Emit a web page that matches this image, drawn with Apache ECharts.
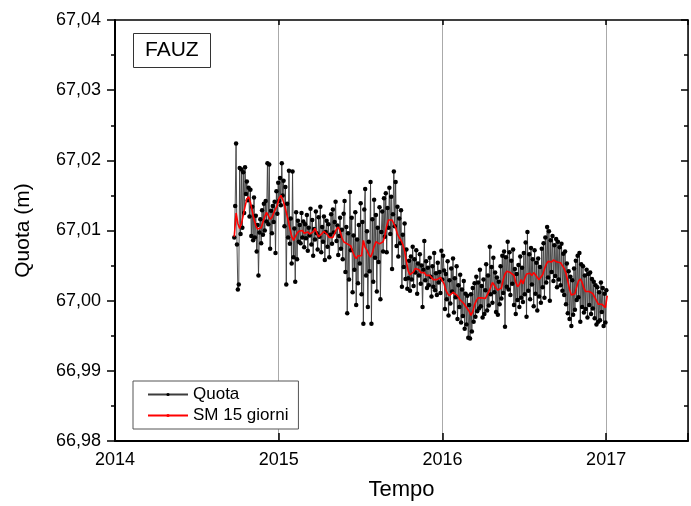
<!DOCTYPE html>
<html><head><meta charset="utf-8">
<script src="https://cdn.jsdelivr.net/npm/echarts@6/dist/echarts.min.js"></script>
<style>html,body{margin:0;padding:0;background:#fff;overflow:hidden}#c{width:691px;height:506px}</style>
</head><body><div id="c"></div>
<script>
// first sample date (decimal year, ~23 Sep 2014) and sampling steps (days)
const startYear = 2014.7286;
const quotaStepDays = 2;
const smStepDays = 4;
const xTickYears = [2014, 2015, 2016, 2017];
const yTicks = [66.98, 66.99, 67.00, 67.01, 67.02, 67.03, 67.04];

// Quota (m), one reading every 2 days
const quota = [
67.0090,67.0135,67.0224,67.0080,67.0016,67.0023,67.0189,67.0095,67.0187,67.0104,
67.0183,67.0125,67.0190,67.0152,67.0170,67.0143,67.0161,67.0120,67.0158,67.0092,
67.0134,67.0086,67.0147,67.0090,67.0121,67.0070,67.0108,67.0036,67.0097,67.0116,
67.0082,67.0129,67.0094,67.0138,67.0100,67.0142,67.0113,67.0196,67.0109,67.0194,
67.0074,67.0128,67.0096,67.0135,67.0112,67.0141,67.0068,67.0156,67.0124,67.0168,
67.0142,67.0175,67.0136,67.0196,67.0150,67.0171,67.0106,67.0162,67.0023,67.0138,
67.0090,67.0185,67.0081,67.0117,67.0053,67.0184,67.0062,67.0103,67.0027,67.0126,
67.0059,67.0114,67.0084,
67.0108,67.0082,67.0125,67.0090,67.0113,67.0076,67.0109,67.0089,67.0122,67.0071,
67.0104,67.0093,67.0131,67.0080,67.0115,67.0064,67.0102,67.0087,67.0127,67.0096,
67.0073,67.0119,67.0091,67.0134,67.0069,67.0105,67.0084,67.0120,67.0058,67.0098,
67.0114,67.0077,67.0109,67.0062,67.0094,67.0123,67.0081,67.0130,67.0097,67.0112,
67.0141,67.0085,67.0107,67.0065,67.0092,67.0118,67.0074,67.0101,67.0059,67.0124,
67.0142,67.0041,67.0105,66.9982,67.0096,67.0030,67.0155,67.0072,67.0118,67.0012,
67.0093,67.0044,67.0126,66.9994,67.0087,67.0025,67.0108,67.0053,67.0139,67.0009,
67.0112,66.9967,67.0130,67.0159,67.0036,67.0099,66.9991,67.0084,67.0042,67.0169,
66.9967,67.0116,67.0027,67.0144,67.0061,67.0122,67.0013,67.0104,67.0055,67.0133,
67.0002,67.0098,67.0127,67.0070,67.0146,67.0091,67.0153,67.0069,67.0132,67.0104,
67.0161,67.0095,67.0148,67.0045,67.0123,67.0184,67.0106,67.0169,67.0078,67.0134,
67.0063,67.0117,67.0082,67.0129,67.0020,67.0094,67.0048,67.0110,67.0031,67.0073,
67.0017,
67.0032,67.0057,67.0014,67.0063,67.0030,67.0077,67.0021,67.0059,67.0040,67.0072,
67.0010,67.0053,67.0036,67.0066,67.0024,67.0050,66.9991,67.0044,67.0085,67.0029,
67.0056,67.0018,67.0047,67.0022,67.0061,67.0034,67.0006,67.0049,67.0020,67.0068,
67.0015,67.0039,67.0008,67.0054,67.0026,67.0041,67.0011,67.0071,67.0030,67.0064,
67.0043,66.9988,67.0038,67.0002,67.0056,66.9979,67.0029,66.9996,67.0046,67.0013,
67.0060,66.9983,67.0032,67.0005,67.0049,66.9974,67.0022,66.9991,67.0037,66.9969,
67.0016,66.9978,67.0028,66.9960,67.0010,66.9966,67.0007,66.9947,66.9994,66.9946,
67.0009,66.9956,67.0018,66.9970,67.0025,66.9977,67.0034,66.9985,67.0026,66.9989,
67.0044,66.9992,67.0021,66.9976,67.0030,66.9981,67.0015,67.0052,66.9986,67.0036,
66.9993,67.0077,67.0009,67.0048,66.9997,67.0061,67.0012,67.0040,66.9984,67.0033,
66.9980,67.0027,66.9995,67.0049,67.0003,67.0064,67.0011,67.0070,66.9963,67.0062,
67.0020,67.0084,67.0016,67.0069,67.0008,67.0057,67.0024,67.0073,66.9994,67.0045,
66.9981,67.0038,67.0001,67.0051,66.9991,67.0063,67.0004,67.0047,66.9998,67.0068,
67.0009,67.0083,66.9977,67.0098,67.0014,67.0066,67.0002,67.0075,67.0023,67.0059,
66.9992,67.0072,67.0010,67.0054,66.9986,67.0060,67.0006,67.0048,66.9997,67.0074,
67.0019,67.0082,67.0004,67.0090,67.0026,67.0105,67.0033,67.0099,67.0000,67.0086,
67.0041,67.0092,67.0028,67.0079,67.0035,67.0088,67.0019,67.0084,67.0030,67.0076,
67.0022,67.0081,67.0014,67.0067,67.0008,67.0070,66.9995,67.0053,66.9982,67.0042,
66.9974,67.0034,66.9964,67.0029,66.9980,67.0046,66.9987,67.0057,67.0001,67.0064,
67.0005,67.0068,66.9970,67.0052,66.9991,67.0049,66.9983,67.0036,66.9988,67.0044,
66.9976,67.0038,66.9994,67.0040,66.9981,67.0031,66.9989,67.0027,66.9975,67.0022,
66.9966,67.0019,66.9970,67.0012,66.9972,67.0026,66.9984,67.0018,66.9964,67.0010,
66.9969,67.0015
];

// SM 15 giorni (m), one value every 4 days
const sm15 = [
67.0091,67.0125,67.0110,67.0103,67.0110,67.0122,67.0134,67.0145,67.0148,67.0140,
67.0128,67.0116,67.0107,67.0102,67.0101,67.0104,67.0112,67.0120,67.0126,67.0124,
67.0116,67.0119,67.0125,67.0127,67.0136,67.0146,67.0150,67.0144,67.0136,67.0126,
67.0115,67.0103,67.0092,67.0086,67.0088,67.0096,67.0099,67.0097,67.0100,67.0096,
67.0095,67.0098,67.0095,67.0093,67.0098,67.0103,67.0097,67.0091,67.0093,67.0096,
67.0099,67.0099,67.0094,67.0090,67.0088,67.0090,67.0096,67.0102,67.0105,67.0099,
67.0090,67.0084,67.0083,67.0081,67.0079,67.0078,67.0070,67.0064,67.0060,67.0064,
67.0066,67.0064,67.0086,67.0076,67.0072,67.0066,67.0062,67.0068,67.0077,67.0084,
67.0085,67.0081,67.0081,67.0084,67.0093,67.0106,67.0115,67.0117,67.0115,67.0114,
67.0104,67.0095,67.0090,67.0086,67.0080,67.0071,67.0056,67.0042,67.0037,67.0039,
67.0041,67.0046,67.0047,67.0044,67.0040,67.0042,67.0040,67.0036,67.0034,67.0036,
67.0033,67.0030,67.0032,67.0030,67.0031,67.0033,67.0033,67.0024,67.0015,67.0010,
67.0007,67.0008,67.0012,67.0011,67.0008,67.0005,67.0001,66.9999,66.9996,66.9992,
66.9990,66.9985,66.9979,66.9984,66.9994,67.0000,67.0004,67.0006,67.0004,67.0002,
67.0003,67.0008,67.0013,67.0019,67.0026,67.0025,67.0018,67.0015,67.0013,67.0018,
67.0030,67.0038,67.0042,67.0042,67.0040,67.0041,67.0036,67.0026,67.0020,67.0023,
67.0030,67.0024,67.0032,67.0038,67.0037,67.0039,67.0036,67.0040,67.0037,67.0033,
67.0030,67.0032,67.0037,67.0045,67.0052,67.0056,67.0057,67.0055,67.0058,67.0056,
67.0055,67.0057,67.0054,67.0050,67.0046,67.0039,67.0028,67.0016,67.0008,67.0006,
67.0010,67.0020,67.0028,67.0031,67.0026,67.0018,67.0013,67.0014,67.0013,67.0014,
67.0010,67.0005,67.0000,66.9995,66.9994,66.9995,66.9993,66.9990,67.0007
];

const quotaData = quota.map((v, i) => [startYear + i * quotaStepDays / 365.25, v]);
const smData = sm15.map((v, i) => [startYear + i * smStepDays / 365.25, v]);

const font = "'Liberation Sans', Arial, Helvetica, sans-serif";
const xMin = xTickYears[0], xMax = 2017.5;
const yMin = yTicks[0], yMax = yTicks[yTicks.length - 1];

const chart = echarts.init(document.getElementById('c'), null, {renderer: 'canvas', width: 691, height: 506});
chart.setOption({
  animation: false,
  backgroundColor: '#fff',
  textStyle: {fontFamily: font},
  title: {
    text: 'FAUZ', left: 133, top: 33, padding: [7, 12, 7, 12],
    borderColor: '#333', borderWidth: 1,
    textStyle: {fontSize: 21, fontWeight: 'normal', color: '#000', fontFamily: font}
  },
  legend: {
    orient: 'vertical', left: 133, top: 381,
    padding: [4, 10, 4, 14], itemGap: 2, itemWidth: 40, itemHeight: 4,
    backgroundColor: '#fff', borderColor: '#555', borderWidth: 1,
    textStyle: {fontSize: 17, color: '#000', fontFamily: font, lineHeight: 19},
    data: ['Quota', 'SM 15 giorni']
  },
  grid: {left: 115, top: 20, width: 575, height: 423},
  xAxis: [
    {
      type: 'value', min: xMin, max: xMax, interval: 1, position: 'bottom',
      name: 'Tempo', nameLocation: 'middle', nameGap: 38,
      nameTextStyle: {fontSize: 22, color: '#000', fontFamily: font},
      axisLine: {show: true, onZero: false, lineStyle: {color: '#000', width: 2}},
      axisTick: {inside: true, length: 8, lineStyle: {color: '#000', width: 1.5}},
      axisLabel: {fontSize: 18, color: '#000', margin: 10, fontFamily: font,
        formatter: v => xTickYears.includes(v) ? String(v) : ''},
      splitLine: {show: true, lineStyle: {color: '#aaa', width: 1}}
    },
    {
      type: 'value', min: xMin, max: xMax, interval: 1, position: 'top',
      axisLine: {show: true, onZero: false, lineStyle: {color: '#000', width: 1.5}},
      axisTick: {inside: true, length: 5, lineStyle: {color: '#000', width: 1.5}},
      axisLabel: {show: false}, splitLine: {show: false}
    }
  ],
  yAxis: [
    {
      type: 'value', min: yMin, max: yMax, interval: 0.01, position: 'left',
      name: 'Quota (m)', nameLocation: 'middle', nameGap: 81,
      nameTextStyle: {fontSize: 21, color: '#000', fontFamily: font},
      axisLine: {show: true, onZero: false, lineStyle: {color: '#000', width: 2}},
      axisTick: {inside: false, length: 8, lineStyle: {color: '#000', width: 1.5}},
      minorTick: {show: true, splitNumber: 2, length: 4, lineStyle: {color: '#000', width: 1.5}},
      axisLabel: {fontSize: 18, color: '#000', margin: 14, fontFamily: font,
        formatter: v => v.toFixed(2).replace('.', ',')},
      splitLine: {show: false}
    },
    {
      type: 'value', min: yMin, max: yMax, interval: 0.01, position: 'right',
      axisLine: {show: true, onZero: false, lineStyle: {color: '#000', width: 1.5}},
      axisTick: {inside: true, length: 7, lineStyle: {color: '#000', width: 1.5}},
      minorTick: {show: true, splitNumber: 2, length: 4, lineStyle: {color: '#000', width: 1.5}},
      axisLabel: {show: false}, splitLine: {show: false}
    }
  ],
  series: [
    {
      name: 'Quota', type: 'line', xAxisIndex: 0, yAxisIndex: 0, data: quotaData,
      symbol: 'circle', symbolSize: 4.5, showSymbol: true, showAllSymbol: true,
      itemStyle: {color: '#000'}, lineStyle: {color: '#3c3c3c', width: 0.9},
      emphasis: {disabled: true}, z: 2
    },
    {
      name: 'SM 15 giorni', type: 'line', xAxisIndex: 0, yAxisIndex: 0, data: smData,
      symbol: 'none', itemStyle: {color: '#ff0000'}, lineStyle: {color: '#ff0000', width: 1.6},
      emphasis: {disabled: true}, z: 3
    }
  ]
});
</script>
</body></html>
